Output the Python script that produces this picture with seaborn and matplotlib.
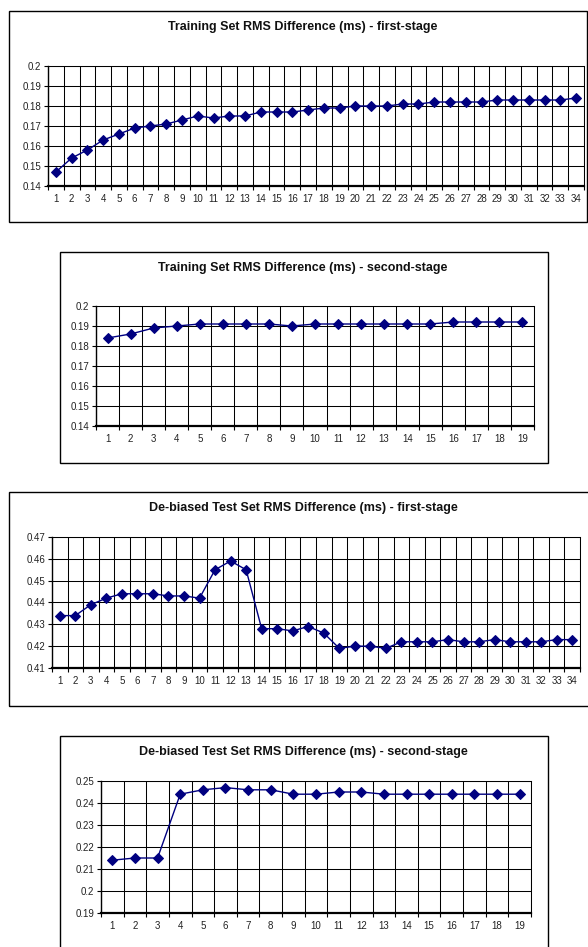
import numpy as np
import pandas as pd
import matplotlib
matplotlib.use("Agg")
import matplotlib.pyplot as plt
import seaborn as sns
from matplotlib.patches import Rectangle
from matplotlib.ticker import FixedLocator

sns.set_style("white")
plt.rcParams["font.family"] = ["Liberation Sans", "DejaVu Sans"]

# data
train_first = [0.147, 0.154, 0.158, 0.163, 0.166, 0.169, 0.170, 0.171, 0.173, 0.175,
               0.174, 0.175, 0.175, 0.177, 0.177, 0.177, 0.178, 0.179, 0.179, 0.180,
               0.180, 0.180, 0.181, 0.181, 0.182, 0.182, 0.182, 0.182, 0.183, 0.183,
               0.183, 0.183, 0.183, 0.184]
train_second = [0.184, 0.186, 0.189, 0.190, 0.191, 0.191, 0.191, 0.191, 0.190, 0.191,
                0.191, 0.191, 0.191, 0.191, 0.191, 0.192, 0.192, 0.192, 0.192]
test_first = [0.434, 0.434, 0.439, 0.442, 0.444, 0.444, 0.444, 0.443, 0.443, 0.442,
              0.455, 0.459, 0.455, 0.428, 0.428, 0.427, 0.429, 0.426, 0.419, 0.420,
              0.420, 0.419, 0.422, 0.422, 0.422, 0.423, 0.422, 0.422, 0.423, 0.422,
              0.422, 0.422, 0.423, 0.423]
test_second = [0.214, 0.215, 0.215, 0.244, 0.246, 0.247, 0.246, 0.246, 0.244, 0.244,
               0.245, 0.245, 0.244, 0.244, 0.244, 0.244, 0.244, 0.244, 0.244]

titles = ["Training Set RMS Difference (ms) - first-stage",
          "Training Set RMS Difference (ms) - second-stage",
          "De-biased Test Set RMS Difference (ms) - first-stage",
          "De-biased Test Set RMS Difference (ms) - second-stage"]
yranges = [(0.14, 0.20), (0.14, 0.20), (0.41, 0.47), (0.19, 0.25)]

W, H = 588, 947
fig = plt.figure(figsize=(W / 100, H / 100), dpi=100)

# pixel layouts: frame box, plot box, title y
panels = [
    dict(frame=(9, 11, 587, 222), plot=(48, 66, 584, 186), ty=27),
    dict(frame=(60, 252, 548, 463), plot=(96, 306, 534, 426), ty=268),
    dict(frame=(9, 492, 600, 706), plot=(52, 537, 580, 668), ty=508),
    dict(frame=(60, 736, 548, 990), plot=(101, 781, 531, 913), ty=752),
]
series = [train_first, train_second, test_first, test_second]
navy = "#000080"

for p, vals, title, (ylo, yhi) in zip(panels, series, titles, yranges):
    fx0, fy0, fx1, fy1 = p["frame"]
    fig.patches.append(Rectangle((fx0 / W, 1 - fy1 / H), (fx1 - fx0) / W, (fy1 - fy0) / H,
                                 transform=fig.transFigure, fill=False,
                                 edgecolor="#000000", linewidth=1.0, zorder=0))
    fig.text(303 / W, 1 - p["ty"] / H, title, ha="center", va="center",
             fontsize=9, fontweight="bold", color="#111111")

    x0, y0, x1, y1 = p["plot"]
    ax = fig.add_axes([x0 / W, 1 - y1 / H, (x1 - x0) / W, (y1 - y0) / H])
    n = len(vals)
    df = pd.DataFrame({"run": np.arange(1, n + 1), "rms": vals})
    sns.lineplot(data=df, x="run", y="rms", ax=ax, color=navy, linewidth=1.0,
                 marker="D", markersize=5.5, markeredgecolor=navy, markerfacecolor=navy)

    ax.set_xlim(0.5, n + 0.5)
    ax.set_ylim(ylo, yhi)
    ax.set_xlabel("")
    ax.set_ylabel("")

    ax.set_xticks(np.arange(1, n + 1))
    ax.set_xticklabels([str(i) for i in range(1, n + 1)])
    ax.xaxis.set_minor_locator(FixedLocator(np.arange(0.5, n + 1, 1.0)))
    yt = np.round(np.arange(ylo, yhi + 0.001, 0.01), 2)
    ax.set_yticks(yt)
    ax.set_yticklabels([f"{v:g}" for v in yt])

    ax.tick_params(axis="x", which="major", length=0, labelsize=7, pad=6, labelcolor="#222222")
    ax.tick_params(axis="x", which="minor", length=3, width=0.8, direction="out",
                   color="black", bottom=True)
    ax.tick_params(axis="y", which="major", length=3, width=0.8, direction="out",
                   labelsize=7, pad=2, color="black", labelcolor="#222222", left=True)

    ax.grid(False)
    ax.grid(True, axis="x", which="minor", color="black", linewidth=0.75)
    ax.grid(True, axis="y", which="major", color="black", linewidth=0.75)
    for side in ["top", "right"]:
        ax.spines[side].set_color("black")
        ax.spines[side].set_linewidth(0.75)
    ax.spines["left"].set_linewidth(1.0)
    ax.spines["left"].set_color("black")
    ax.spines["bottom"].set_linewidth(1.6)
    ax.spines["bottom"].set_color("black")
    ax.set_axisbelow(True)

fig.savefig("out.png", dpi=100)
